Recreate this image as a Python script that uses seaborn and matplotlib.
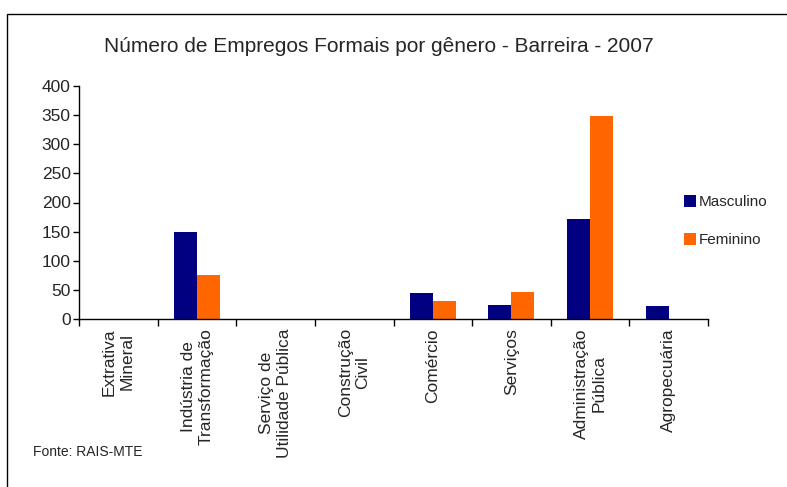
import matplotlib.pyplot as plt
from matplotlib.patches import Rectangle
from matplotlib.ticker import FixedLocator
import pandas as pd
import seaborn as sns

sns.set_style('white')
plt.rcParams['font.family'] = ['Liberation Sans', 'DejaVu Sans']

setores = ['Extrativa\nMineral', 'Indústria de\nTransformação', 'Serviço de\nUtilidade Pública',
           'Construção\nCivil', 'Comércio', 'Serviços', 'Administração\nPública', 'Agropecuária']
masculino = [0, 150, 0, 0, 45, 24, 172, 22]
feminino = [0, 76, 0, 0, 31, 46, 349, 0]

df = pd.DataFrame({
    'setor': setores * 2,
    'valor': masculino + feminino,
    'genero': ['Masculino'] * len(setores) + ['Feminino'] * len(setores),
})

fig = plt.figure(figsize=(7.87, 4.87), dpi=100)
ax = fig.add_axes([79 / 787, 1 - 319 / 487, (708 - 79) / 787, (319 - 86) / 487])

sns.barplot(data=df, x='setor', y='valor', hue='genero', order=setores,
            hue_order=['Masculino', 'Feminino'], palette=['#000080', '#FF6600'],
            width=0.585, gap=0, saturation=1, linewidth=0, ax=ax)

ax.set_xlim(-0.5, len(setores) - 0.5)
ax.set_ylim(0, 400)
ax.set_yticks(range(0, 401, 50))
ax.set_xlabel('')
ax.set_ylabel('')
for s in ['top', 'right']:
    ax.spines[s].set_visible(False)
for s in ['left', 'bottom']:
    ax.spines[s].set_color('black')
    ax.spines[s].set_linewidth(1)

ax.tick_params(axis='y', left=True, length=4, width=1, color='black', labelsize=12.5, pad=2)
ax.tick_params(axis='x', which='major', bottom=False, labelsize=12.5, pad=3)
ax.xaxis.set_minor_locator(FixedLocator([i - 0.5 for i in range(len(setores) + 1)]))
ax.tick_params(axis='x', which='minor', bottom=True, length=5, width=1, color='black')
for lab in ax.get_xticklabels():
    lab.set_rotation(90)
    lab.set_va('top')
    lab.set_ha('center')
    lab.set_multialignment('center')

ax.legend(loc='upper left', bbox_to_anchor=(678 / 787, 1 - 189 / 487),
          bbox_transform=fig.transFigure, frameon=False, fontsize=11,
          handlelength=0.8, handleheight=0.8, handletextpad=0.15, labelspacing=1.55,
          borderaxespad=0)

fig.text(379 / 787, 1 - 47 / 487, 'Número de Empregos Formais por gênero - Barreira - 2007',
         ha='center', va='center', fontsize=15)
fig.text(33 / 787, 1 - 452 / 487, 'Fonte: RAIS-MTE', ha='left', va='center', fontsize=10)

fig.patches.append(Rectangle((7 / 787, -0.1), 1.1, 1 - 14 / 487 + 0.1, transform=fig.transFigure,
                             fill=False, edgecolor='black', linewidth=1))

fig.savefig('out.png', dpi=100)
